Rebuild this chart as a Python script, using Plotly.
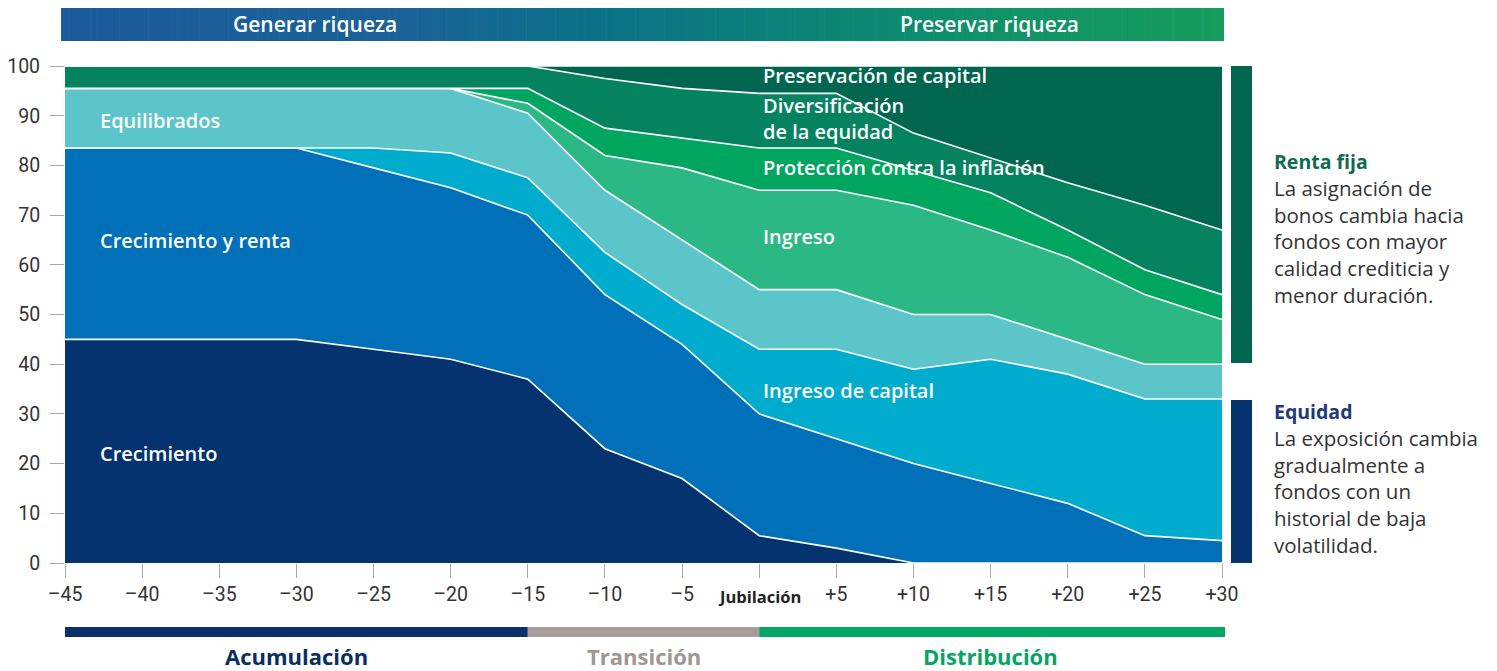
import plotly.graph_objects as go

# ---------------- data ----------------
years = [-45, -30, -25, -20, -15, -10, -5, 0, 5, 10, 15, 20, 25, 30]

crecimiento        = [45, 45, 43, 41, 37, 23, 17, 5.5, 3, 0, 0, 0, 0, 0]
crecimiento_renta  = [38.5, 38.5, 36.5, 34.5, 33, 31, 27, 24.5, 22, 20, 16, 12, 5.5, 4.5]
ingreso_capital    = [0, 0, 4, 7, 7.5, 8.5, 8, 13, 18, 19, 25, 26, 27.5, 28.5]
equilibrados       = [12, 12, 12, 13, 13, 12.5, 13, 12, 12, 11, 9, 7, 7, 7]
ingreso            = [0, 0, 0, 0, 2, 7, 14.5, 20, 20, 22, 17, 16.5, 14, 9]
proteccion         = [0, 0, 0, 0, 3, 5.5, 6, 8.5, 8.5, 7, 7.5, 5.5, 5, 5]
diversificacion    = [4.5, 4.5, 4.5, 4.5, 4.5, 10, 10, 11, 11, 7.5, 7, 9.5, 13, 13]
preservacion       = [0, 0, 0, 0, 0, 2.5, 4.5, 5.5, 5.5, 13.5, 18.5, 23.5, 28, 33]

series_names = ["Crecimiento", "Crecimiento y renta", "Ingreso de capital", "Equilibrados",
                "Ingreso", "Protección contra la inflación", "Diversificación de la equidad",
                "Preservación de capital"]
series_values = [crecimiento, crecimiento_renta, ingreso_capital, equilibrados,
                 ingreso, proteccion, diversificacion, preservacion]
series_colors = ["#04336F", "#0070B8", "#00ACCD", "#5CC5CA",
                 "#2BB885", "#00A660", "#05835F", "#00664F"]

x_tickvals = [-45, -40, -35, -30, -25, -20, -15, -10, -5, 0, 5, 10, 15, 20, 25, 30]
x_ticktext = ["–45", "–40", "–35", "–30", "–25", "–20", "–15", "–10", "–5", "",
              "+5", "+10", "+15", "+20", "+25", "+30"]
y_tickvals = list(range(0, 101, 10))

phases = [("Acumulación", -45, -15, "#0B2F6A", "#0B2D63"),
          ("Transición", -15, 0, "#A59E99", "#9E9792"),
          ("Distribución", 0, 30, "#05A766", "#06A465")]

# ---------------- layout geometry (screen pixels; page body adds an 8px margin) ----------------
OFF = 8
W, H = 1497 - OFF, 671 - OFF
L, R, T, B = 65, 1222, 66, 563   # plot area in screen pixels


def px_x(p):
    return (p - L) / (R - L)


def px_y(p):
    return (B - p) / (B - T)


FONT = "'Open Sans', Lato, sans-serif"

fig = go.Figure()
for name, vals, color in zip(series_names, series_values, series_colors):
    fig.add_trace(go.Scatter(
        x=years, y=vals, name=name, mode="lines", stackgroup="one",
        line=dict(color="white", width=1.6, shape="linear"),
        fillcolor=color, hoverinfo="skip", showlegend=False))

shapes = []
annotations = []

# gradient banner
stops = [(0.0, (26, 91, 155)), (0.30, (26, 99, 152)), (0.45, (10, 112, 135)),
         (0.62, (10, 130, 121)), (0.80, (15, 146, 104)), (1.0, (22, 155, 92))]


def grad(t):
    for (a, ca), (b, cb) in zip(stops[:-1], stops[1:]):
        if a <= t <= b:
            f = (t - a) / (b - a)
            return "rgb(%d,%d,%d)" % tuple(round(ca[i] + (cb[i] - ca[i]) * f) for i in range(3))
    return "rgb(%d,%d,%d)" % stops[-1][1]


bx0, bx1 = 61, 1224
n = 160
for i in range(n):
    x0 = bx0 + (bx1 - bx0) * i / n
    x1 = bx0 + (bx1 - bx0) * (i + 1) / n + 0.6
    shapes.append(dict(type="rect", xref="paper", yref="paper",
                       x0=px_x(x0), x1=px_x(min(x1, bx1)), y0=px_y(41), y1=px_y(7),
                       fillcolor=grad((i + 0.5) / n), line=dict(width=0), layer="above"))


def ann(**kw):
    kw.setdefault("showarrow", False)
    kw.setdefault("xanchor", "center")
    kw.setdefault("yanchor", "middle")
    annotations.append(kw)


ann(xref="paper", yref="paper", x=px_x(315), y=px_y(24), text="Generar riqueza",
    font=dict(family=FONT, size=21, color="white", weight=600))
ann(xref="paper", yref="paper", x=px_x(989), y=px_y(24), text="Preservar riqueza",
    font=dict(family=FONT, size=21, color="white", weight=600))

# phase bars
for label, a, b, barc, txtc in phases:
    shapes.append(dict(type="rect", xref="paper", yref="paper",
                       x0=(a + 45) / 75, x1=(b + 45) / 75 + (0.0026 if b == 30 else 0),
                       y0=px_y(637), y1=px_y(627), fillcolor=barc, line=dict(width=0)))
    ann(xref="x", yref="paper", x=(a + b) / 2, y=px_y(656), text=label,
        font=dict(family=FONT, size=22, color=txtc, weight=700))

# right side bars
shapes.append(dict(type="rect", xref="paper", yref="paper", x0=px_x(1231), x1=px_x(1252),
                   y0=px_y(363), y1=px_y(66), fillcolor="#00664F", line=dict(width=0)))
shapes.append(dict(type="rect", xref="paper", yref="paper", x0=px_x(1231), x1=px_x(1252),
                   y0=px_y(563), y1=px_y(400), fillcolor="#04336F", line=dict(width=0)))

right_blocks = [
    ("Renta fija", "#0D6B4F", 161,
     ["La asignación de", "bonos cambia hacia", "fondos con mayor",
      "calidad crediticia y", "menor duración."]),
    ("Equidad", "#1E3B78", 411,
     ["La exposición cambia", "gradualmente a", "fondos con un",
      "historial de baja", "volatilidad."]),
]
for title, col, ty, lines in right_blocks:
    ann(xref="paper", yref="paper", x=px_x(1272), y=px_y(ty), xanchor="left",
        text=title, font=dict(family=FONT, size=19.5, color=col, weight=700))
    for k, ln in enumerate(lines):
        ann(xref="paper", yref="paper", x=px_x(1272), y=px_y(ty + 27 + 26.7 * k),
            xanchor="left", text=ln, font=dict(family=FONT, size=20.5, color="#333333"))

# area labels
area_labels = [
    ("Crecimiento", -42.85, 22.1),
    ("Crecimiento y renta", -42.85, 64.9),
    ("Equilibrados", -42.85, 89.1),
    ("Preservación de capital", 0.1, 98.0),
    ("Diversificación<br>de la equidad", 0.1, 89.5),
    ("Protección contra la inflación", 0.1, 79.6),
    ("Ingreso", 0.1, 65.6),
    ("Ingreso de capital", 0.1, 34.8),
]
for txt, xv, yv in area_labels:
    ann(x=xv, y=yv, xref="x", yref="y", text=txt, xanchor="left", align="left",
        font=dict(family=FONT, size=20, color="white", weight=600))

# Jubilación tick label
ann(x=0, xref="x", yref="paper", y=px_y(596), text="Jubilación",
    font=dict(family=FONT, size=16.5, color="#222222", weight=700))

fig.update_layout(
    width=W, height=H,
    margin=dict(l=L - OFF, r=W - (R - OFF), t=T - OFF, b=H - (B - OFF), pad=0, autoexpand=False),
    paper_bgcolor="white", plot_bgcolor="white",
    showlegend=False,
    shapes=shapes, annotations=annotations,
    xaxis=dict(range=[-45, 30], tickmode="array", tickvals=x_tickvals, ticktext=x_ticktext,
               showgrid=False, zeroline=False, showline=False, automargin=False,
               ticks="outside", ticklen=14, tickcolor="#AAAAAA", tickwidth=1,
               tickfont=dict(family="Roboto, sans-serif", size=19.5, color="#333333"),
               fixedrange=True),
    yaxis=dict(range=[0, 100], tickmode="array", tickvals=y_tickvals,
               showgrid=False, zeroline=False, showline=False, automargin=False,
               ticks="outside", ticklen=14, tickcolor="#AAAAAA", tickwidth=1,
               ticklabelstandoff=6,
               tickfont=dict(family="Roboto, sans-serif", size=19.5, color="#333333"),
               fixedrange=True),
)

fig.write_html("out.html")
